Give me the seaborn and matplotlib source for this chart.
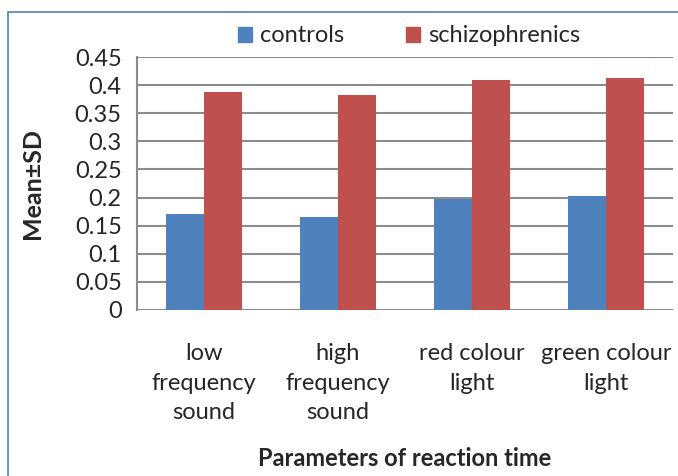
import pandas as pd
import matplotlib.pyplot as plt
import matplotlib.patches as mpatches
import seaborn as sns

categories = ["low\nfrequency\nsound", "high\nfrequency\nsound",
              "red colour\nlight", "green colour\nlight"]
controls = [0.170, 0.166, 0.198, 0.202]
schizophrenics = [0.388, 0.382, 0.409, 0.412]
groups = ["controls", "schizophrenics"]
yticks = [0, 0.05, 0.1, 0.15, 0.2, 0.25, 0.3, 0.35, 0.4, 0.45]
ytick_labels = ["0", "0.05", "0.1", "0.15", "0.2", "0.25", "0.3", "0.35", "0.4", "0.45"]

df = pd.DataFrame({
    "param": categories * 2,
    "group": [groups[0]] * 4 + [groups[1]] * 4,
    "value": controls + schizophrenics,
})

sns.set_style("white")
plt.rcParams['font.family'] = ['Lato', 'DejaVu Sans']

W, H = 678, 476
fig = plt.figure(figsize=(W / 100, H / 100), dpi=100)
ax = fig.add_axes([137 / W, 1 - 310 / H, (673 - 137) / W, (310 - 57) / H])

sns.barplot(data=df, x="param", y="value", hue="group", order=categories,
            palette=["#4F81BD", "#C0504D"], width=0.567, gap=0,
            saturation=1, linewidth=0, ax=ax, legend=False)

ax.set_ylim(0, 0.45)
ax.set_xlim(-0.5, 3.5)
ax.set_yticks(yticks)
ax.set_yticklabels(ytick_labels, fontsize=17)
ax.yaxis.grid(True, color="#8c8c8c", linewidth=1.5)
ax.set_axisbelow(True)
for s in ["top", "right", "bottom"]:
    ax.spines[s].set_visible(False)
ax.spines["left"].set_color("#8c8c8c")
ax.spines["left"].set_linewidth(1.5)
ax.tick_params(axis="y", length=7, width=1.5, color="#8c8c8c", pad=4)
ax.tick_params(axis="x", length=0, pad=24)
for lbl in ax.get_xticklabels():
    lbl.set_fontsize(17)
    lbl.set_linespacing(1.5)
    lbl.set_verticalalignment("top")

ax.set_xlabel("Parameters of reaction time", fontsize=17, fontweight="bold", labelpad=17)
ax.set_ylabel("Mean±SD", fontsize=18, fontweight="bold", labelpad=22)

handles = [mpatches.Patch(color="#4F81BD", label=groups[0]),
           mpatches.Patch(color="#C0504D", label=groups[1])]
fig.legend(handles=handles, loc="center", bbox_to_anchor=(409 / W, 1 - 36 / H),
           ncol=2, frameon=False, fontsize=17, handlelength=0.6, handleheight=0.6,
           handletextpad=0.35, columnspacing=2.6)

# chart frame
fig.add_artist(mpatches.Rectangle((8 / W, -0.1), 1.0, 1.1 - 12 / H,
                                  transform=fig.transFigure, fill=False,
                                  edgecolor="#4F81BD", linewidth=1.2))

fig.savefig("out.png", dpi=100)
